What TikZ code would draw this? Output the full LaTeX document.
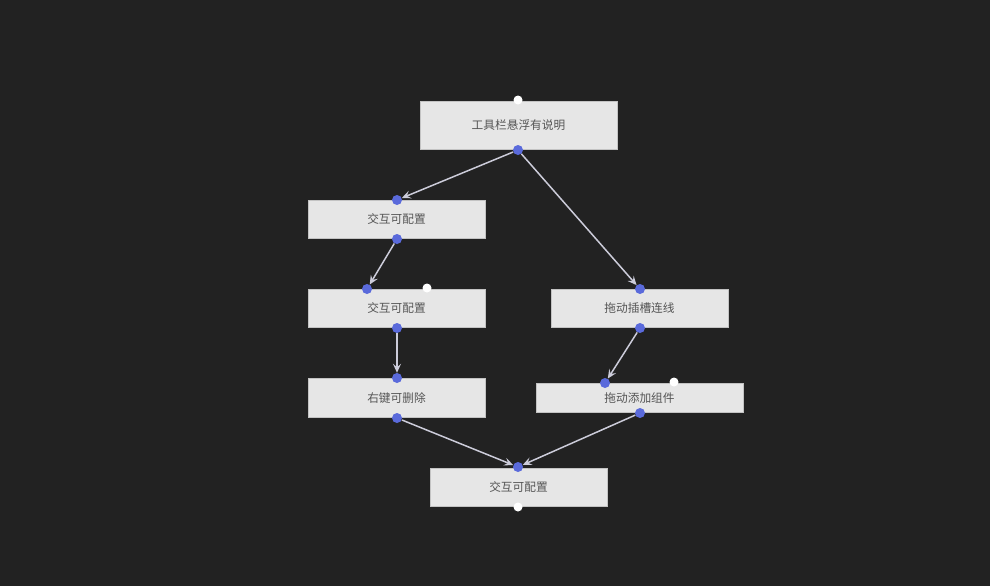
\documentclass[tikz,border=0pt]{standalone}
\usepackage{fontspec}
\newfontfamily\cjk{Noto Sans CJK SC}
\usetikzlibrary{arrows.meta}
\definecolor{bgdark}{HTML}{222222}
\definecolor{boxgray}{HTML}{E6E6E6}
\definecolor{txtgray}{HTML}{555555}
\definecolor{portblue}{HTML}{5A6ADB}
\definecolor{linegray}{HTML}{CCCCDA}
\begin{document}
\begin{tikzpicture}[
        x=1pt, y=-1pt,
        font=\cjk\fontsize{11.7}{13}\selectfont
    ]
    \tikzset{
        mybox/.style = {rectangle, draw=boxgray!85!black, line width=0.4pt, fill=boxgray, text=txtgray, inner sep=0pt, minimum width=177pt, minimum height=38pt, text depth=-1pt},
        portb/.style = {circle, fill=portblue, inner sep=0pt, minimum size=10pt},
        portw/.style = {circle, fill=white, inner sep=0pt, minimum size=9pt},
        edgea/.style = {-{Stealth[length=9pt,width=8pt,inset=3.5pt]}, line width=1.5pt, linegray},
    }
    \fill[bgdark] (0,0) rectangle (990,586);
    \node[mybox, minimum width=197pt, minimum height=48pt] at (518.5,125) (a) {工具栏悬浮有说明};
    \node[mybox] at (396.5,219) (b) {交互可配置};
    \node[mybox] at (396.5,308) (c) {交互可配置};
    \node[mybox, minimum height=39pt] at (396.5,397.5) (d) {右键可删除};
    \node[mybox] at (639.5,308) (e) {拖动插槽连线};
    \node[mybox, minimum width=207pt, minimum height=29pt] at (639.5,397.5) (f) {拖动添加组件};
    \node[mybox] at (518.5,487) (g) {交互可配置};
    %
    \node[portw] at (518,100) (a-in) {};
    \node[portb] at (518,150) (a-out) {};
    \node[portb] at (397,200) (b-in) {};
    \node[portb] at (397,239) (b-out) {};
    \node[portb] at (367,289) (c-in) {};
    \node[portw] at (427,288) (c-free) {};
    \node[portb] at (397,328) (c-out) {};
    \node[portb] at (397,378) (d-in) {};
    \node[portb] at (397,418) (d-out) {};
    \node[portb] at (640,289) (e-in) {};
    \node[portb] at (640,328) (e-out) {};
    \node[portb] at (605,383) (f-in) {};
    \node[portw] at (674,382) (f-free) {};
    \node[portb] at (640,413) (f-out) {};
    \node[portb] at (518,467) (g-in) {};
    \node[portw] at (518,507) (g-out) {};
    %
    \draw[edgea] (a-out) -- (b-in);
    \draw[edgea] (a-out) -- (e-in);
    \draw[edgea] (b-out) -- (c-in);
    \draw[edgea] (c-out) -- (d-in);
    \draw[edgea] (e-out) -- (f-in);
    %
    \draw[edgea] (d-out) -- (g-in);
    \draw[edgea] (f-out) -- (g-in);
\end{tikzpicture}
\end{document}
